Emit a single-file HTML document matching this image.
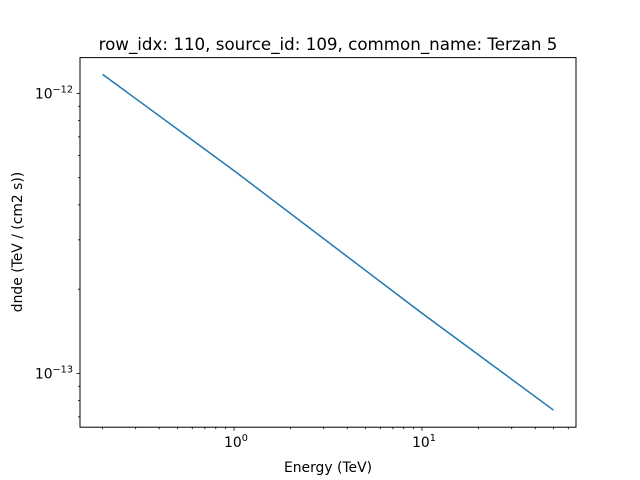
<!DOCTYPE html>
<html><head><meta charset="utf-8">
<style>
html,body{margin:0;padding:0;background:#fff;}
svg{display:block;font-family:"DejaVu Sans","Liberation Sans",sans-serif;}
</style></head>
<body>
<svg id="chart" width="640" height="480" viewBox="0 0 640 480">
  <rect x="0" y="0" width="640" height="480" fill="#fff"/>
  <text x="328" y="50" font-size="16.7" text-anchor="middle" fill="#000">row_idx: 110, source_id: 109, common_name: Terzan 5</text>
  <text x="328" y="472" font-size="13.9" text-anchor="middle" fill="#000">Energy (TeV)</text>
  <text x="0" y="0" font-size="13.9" text-anchor="middle" fill="#000" transform="translate(22,242) rotate(-90)">dnde (TeV / (cm2 s))</text>
  <g id="ticks"></g>
  <g id="series"></g>
  <rect x="80" y="57.6" width="496" height="369.6" fill="none" stroke="#000" stroke-width="1"/>
</svg>
<script>
const energies = [0.2, 1, 10, 50];
const dnde = [1.17e-12, 5.3e-13, 1.64e-13, 7.4e-14];
const xMajorTicks = [0, 1];
const xTickLabels = ["0", "1"];
const yMajorTicks = [-13, -12];
const yTickLabels = ["\u221213", "\u221212"];

const L = 80, R = 576, T = 57.6, B = 427.2;
const xMin = -0.819, xMax = 1.819;
const yMin = -13.192, yMax = -11.872;
function xs(v){ return L + (Math.log10(v) - xMin) / (xMax - xMin) * (R - L); }
function ys(v){ return B - (Math.log10(v) - yMin) / (yMax - yMin) * (B - T); }
function xl(l){ return L + (l - xMin) / (xMax - xMin) * (R - L); }
function yl(l){ return B - (l - yMin) / (yMax - yMin) * (B - T); }

const NS = "http://www.w3.org/2000/svg";
const tg = document.getElementById("ticks");
function line(x1,y1,x2,y2,name){
  const e = document.createElementNS(NS,"line");
  e.setAttribute("x1",x1);e.setAttribute("y1",y1);e.setAttribute("x2",x2);e.setAttribute("y2",y2);
  e.setAttribute("stroke","#000");e.setAttribute("stroke-width","0.8");
  
  
  tg.appendChild(e);
}
function label(x,y,exp,anchor,name){
  const t = document.createElementNS(NS,"text");
  t.setAttribute("x",x);t.setAttribute("y",y);t.setAttribute("font-size","13.9");
  t.setAttribute("text-anchor",anchor);t.setAttribute("fill","#000");
  
  
  const a = document.createElementNS(NS,"tspan"); a.textContent="10"; t.appendChild(a);
  const b = document.createElementNS(NS,"tspan"); b.textContent=exp;
  b.setAttribute("font-size","9.7"); b.setAttribute("dy","-6"); t.appendChild(b);
  tg.appendChild(t);
}
for(let d=-1; d<=1; d++){
  for(let m=1; m<=9; m++){
    const l = d + Math.log10(m);
    if(l < xMin || l > xMax) continue;
    const x = xl(l);
    if(m===1){ line(x,B,x,B+3.5,'x-major-tick'); }
    else { line(x,B,x,B+2,'x-minor-tick'); }
  }
}
xMajorTicks.forEach((d,i)=>{ label(xl(d)+2, B+20, xTickLabels[i], "middle", 'x-tick-label'); });
for(let d=-14; d<=-12; d++){
  for(let m=1; m<=9; m++){
    const l = d + Math.log10(m);
    if(l < yMin || l > yMax) continue;
    const y = yl(l);
    if(m===1){ line(L-3.5,y,L,y,'y-major-tick'); }
    else { line(L-2,y,L,y,'y-minor-tick'); }
  }
}
yMajorTicks.forEach((d,i)=>{ label(L-7, yl(d)+5, yTickLabels[i], "end", 'y-tick-label'); });
const sg = document.getElementById("series");
const p = document.createElementNS(NS,"polyline");
p.setAttribute("points", energies.map((e,i)=>xs(e)+","+ys(dnde[i])).join(" "));
p.setAttribute("fill","none");p.setAttribute("stroke","#1f77b4");p.setAttribute("stroke-width","1.5");


sg.appendChild(p);
</script>
</body></html>
